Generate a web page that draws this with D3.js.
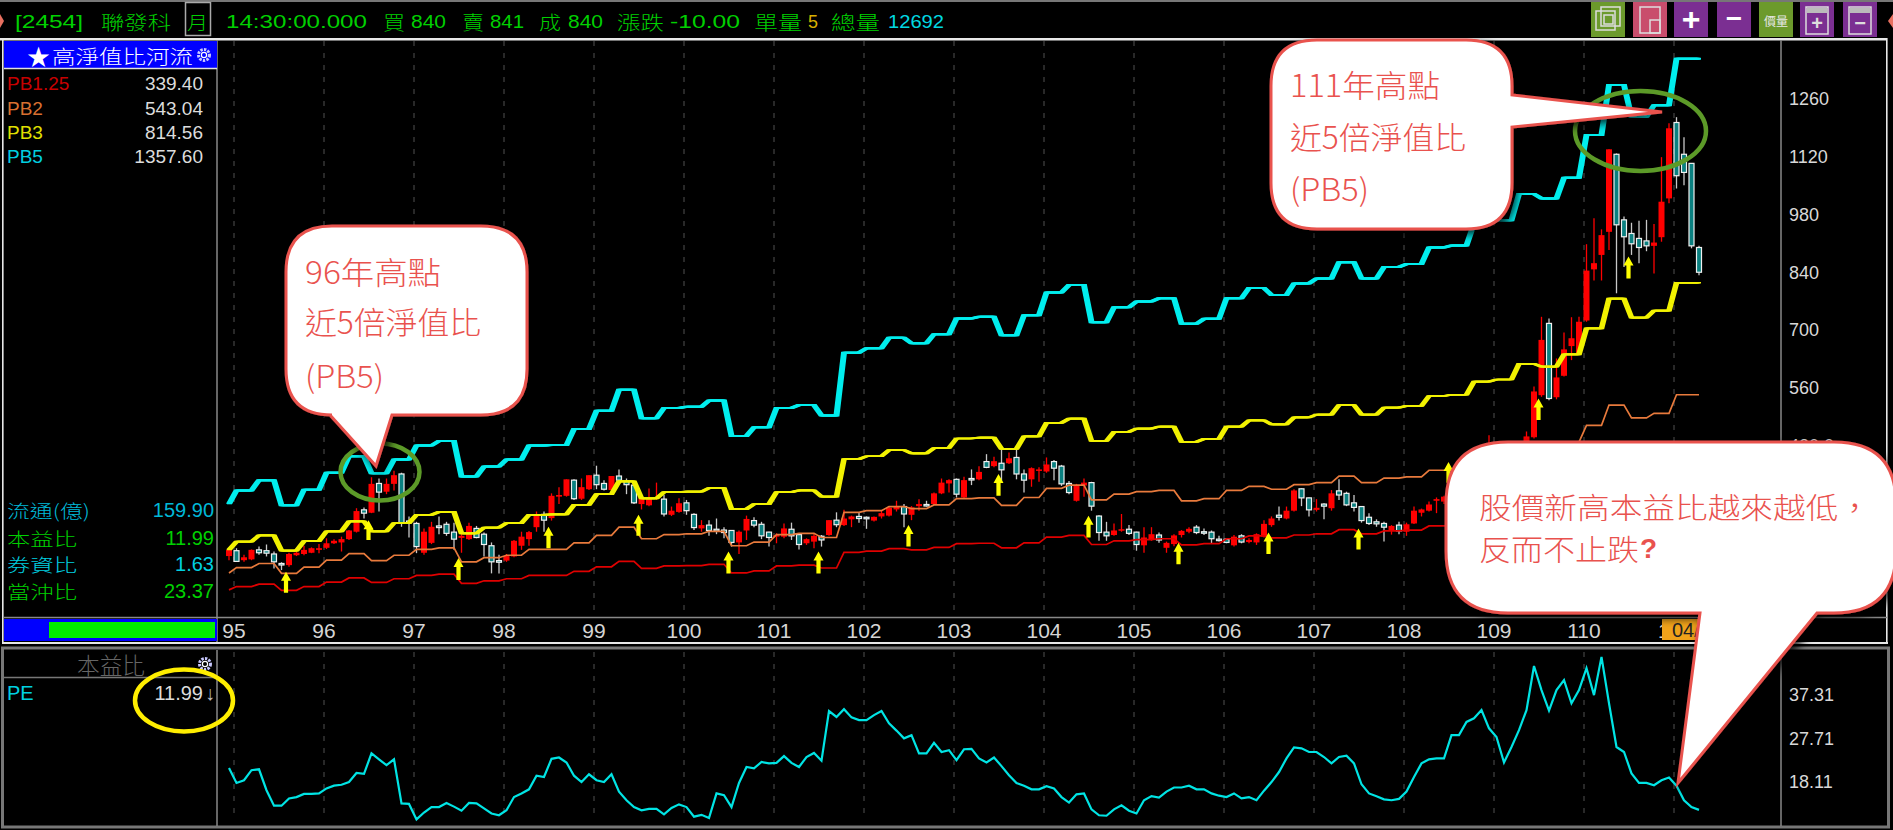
<!DOCTYPE html>
<html><head><meta charset="utf-8"><title>聯發科 高淨值比河流</title>
<script src="https://cdn.jsdelivr.net/npm/d3@7/dist/d3.min.js"></script>
<style>html,body{margin:0;padding:0;background:#000;overflow:hidden}svg{display:block}</style>
</head><body><div id="chart"></div>
<script>
// ---- DATA ----
const yearLabels=["95","96","97","98","99","100","101","102","103","104","105","106","107","108","109","110","111"];
const priceTicks=[1260,1120,980,840,700,560,420];
const priceTickLabels=["1260","1120","980","840","700","560","420.0"];
const peTicks=[37.31,27.71,18.11];
const peTickLabels=["37.31","27.71","18.11"];
// quarterly book-value river lines (first value = first month, then one per quarter)
const pb5=[278,311,336,275,313,354,394,353,386,420,431,345,369,386,420,421,460,504,555,486,511,514,529,443,464,511,518,493,645,656,681,668,690,728,732,687,736,791,809,719,755,769,777,715,727,777,802,785,813,825,864,825,853,860,900,905,958,966,1030,1019,1069,1173,1294,1217,1245,1357.6];
const pb3=[167,187,202,165,188,212,236,212,232,252,259,207,221,232,252,253,276,302,333,292,307,308,317,266,278,307,311,296,387,394,409,401,414,437,439,412,442,475,485,431,453,461,466,429,436,466,481,471,488,495,518,495,512,516,540,543,575,580,618,611,641,704,776,730,747,814.56];
const pb2=[111,124,134,110,125,142,158,141,154,168,172,138,148,154,168,168,184,202,222,194,204,206,212,177,186,204,207,197,258,262,272,267,276,291,293,275,294,316,324,288,302,308,311,286,291,311,321,314,325,330,346,330,341,344,360,362,383,386,412,408,428,469,518,487,498,543.04];
const pb125=[70,78,84,69,78,89,99,88,97,105,108,86,92,97,105,105,115,126,139,122,128,129,132,111,116,128,130,123,161,164,170,167,173,182,183,172,184,198,202,180,189,192,194,179,182,194,201,196,203,206,216,206,213,215,225,226,240,242,258,255,267,293,324,304,311,339.4];
// monthly candles
const opens=[152,165,142,144,167,165,157,134,130,154,
157,160,167,172,183,185,193,211,264,257,
328,308,327,351,237,231,160,184,225,229,
210,196,193,219,205,177,141,141,151,177,
193,222,253,244,296,298,336,291,314,348,
328,312,346,333,324,278,275,291,290,252,
259,281,253,219,227,217,215,214,185,214,
238,229,210,199,199,217,204,183,187,200,
203,239,227,241,248,246,238,248,250,265,
272,252,273,277,278,304,328,338,294,340,
338,381,370,377,377,391,351,338,359,357,
381,370,328,286,323,330,249,210,203,214,
217,210,178,193,203,172,181,203,211,222,
211,210,193,193,178,201,186,185,199,227,
251,243,262,315,293,264,278,268,310,304,
281,272,246,235,231,213,227,211,231,257,
262,286,284,290,305,292,318,330,308,400,
360,395,410,410,440,542,716,537,589,661,
643,723,847,882,938,1126,967,934,922,916,
904,925,1019,1203,1126,1104,900];
const closes=[167,139,149,167,160,159,138,132,157,160,
167,171,171,183,189,193,214,261,256,327,
307,327,348,233,233,175,211,223,221,207,
193,201,225,197,180,138,137,152,189,199,
210,250,239,298,300,338,291,319,348,325,
314,346,336,325,281,292,292,294,254,262,
280,262,221,227,214,213,209,185,211,242,
227,201,197,203,219,201,180,193,201,191,
239,228,243,248,243,243,247,256,269,273,
254,270,278,274,304,330,336,302,336,338,
356,367,382,361,389,351,336,365,362,374,
365,327,306,324,330,273,209,201,214,217,
207,180,197,205,191,184,202,213,218,209,
208,194,191,185,199,186,191,205,230,243,
246,262,311,293,264,269,273,304,300,276,
270,238,231,230,222,225,213,229,262,265,
277,290,296,305,292,318,330,308,400,360,
395,410,400,442,551,676,534,585,653,680,
720,844,862,930,1138,955,926,909,900,904,
912,1011,1189,1074,1082,904,840];
const highs=[171,171,155,168,175,180,163,137,160,171,
177,173,181,195,193,199,215,268,270,343,
340,340,359,354,248,235,219,235,248,235,
233,207,233,225,209,185,155,157,191,211,
213,260,260,304,319,338,338,340,348,371,
336,346,362,340,324,296,316,330,300,272,
292,288,256,239,239,243,222,215,214,250,
246,235,211,207,231,233,207,195,207,203,
239,258,264,250,258,248,248,262,272,286,
278,273,290,286,306,340,338,340,344,362,
370,399,393,411,403,411,362,367,367,391,
385,373,334,327,340,332,251,235,231,254,
227,211,222,222,209,187,205,215,222,227,
219,214,201,195,203,205,195,207,239,248,
272,272,314,316,294,290,280,312,338,308,
300,273,256,241,235,227,235,233,272,267,
284,294,298,312,318,325,340,345,445,420,
405,420,425,454,563,732,728,631,694,731,
732,908,971,944,1138,1128,975,960,965,967,
957,1119,1201,1216,1167,1104,904];
const lows=[142,138,138,142,155,151,122,118,126,152,
154,159,159,169,181,163,191,209,243,256,
260,302,311,223,197,159,155,181,205,201,
167,160,191,195,151,110,110,138,149,167,
177,211,211,238,278,296,288,288,312,314,
311,308,332,302,278,265,273,288,248,249,
257,252,215,211,201,205,195,175,157,191,
222,193,175,183,195,191,168,179,171,175,
201,222,225,222,233,218,236,243,248,260,
222,239,262,272,276,302,306,294,293,324,
336,365,367,332,375,338,306,320,332,354,
336,322,302,284,296,262,189,189,201,211,
203,165,160,189,184,160,176,197,207,205,
203,183,187,183,175,183,183,179,197,223,
238,241,260,273,248,260,241,262,288,273,
260,233,227,223,187,204,205,201,230,248,
260,256,278,285,280,285,305,300,298,340,
350,385,390,405,437,538,530,532,587,627,
642,720,820,820,894,789,853,882,862,891,
837,914,1007,1043,1051,898,833];
// monthly PE
const pe=[21.2,17.9,18.5,20.7,20.9,16.3,12.9,12.9,14.5,14.8,
15.5,15.5,15.6,16.7,17.3,17.5,18.1,20.1,19.9,24.4,
23.1,21.8,23.1,13.4,13.3,9.9,11.4,12.6,12.6,13.5,
12.7,11.8,13.5,13.4,12.3,11.2,10.8,11.9,14.8,15.6,
16.5,19.5,19.2,23.2,23.5,22.4,19.5,18.1,19.8,18.5,
18.1,19.8,16.0,14.1,12.6,11.9,12.2,12.2,11.0,12.4,
13.2,12.6,10.5,10.9,10.2,15.6,15.2,12.6,17.9,21.4,
21.1,22.5,22.2,22.3,23.8,22.3,21.4,23.6,24.5,22.8,
33.7,32.4,34.1,32.3,31.7,31.7,32.8,33.7,31.0,29.4,
27.7,28.4,24.4,24.4,26.7,24.7,25.1,22.9,25.3,25.4,
23.3,22.4,23.5,21.6,19.6,17.9,17.3,16.5,16.5,17.2,
16.7,14.8,13.6,15.4,15.6,12.1,10.8,10.7,12.1,13.0,
11.8,11.2,14.1,15.0,14.7,16.0,16.9,16.9,17.3,16.5,
16.5,15.6,15.1,14.8,15.6,14.5,14.8,14.1,16.2,18.1,
20.3,23.3,25.7,25.5,24.7,24.7,23.6,22.2,23.6,23.9,
22.2,17.6,15.6,15.0,14.3,14.1,14.4,16.0,19.2,22.2,
23.1,23.3,23.3,28.4,28.4,31.3,32.1,33.9,29.9,28.0,
22.4,25.8,29.5,33.9,43.6,38.3,33.8,38.3,40.5,35.4,
38.3,43.1,37.2,45.6,35.4,25.8,24.7,20.0,17.9,17.9,
17.4,18.5,19.1,17.3,14.1,12.6,11.99];
// yellow ex-dividend arrows: month index and price span
const arrowMonths=[8,19,31,43,55,67,79,91,103,115,127,139,151,163,175,187];
const arrowTops=[114,239,147,223,252,163,163,227,351,250,184,209,219,380,534,878];
const arrowBottoms=[63,191,94,171,201,110,110,175,298,197,132,157,168,330,482,825];
const legendNames=["PB1.25","PB2","PB3","PB5"];
const legendValues=["339.40","543.04","814.56","1357.60"];
const statNames=["流通(億)","本益比","券資比","當沖比"];
const statValues=["159.90","11.99","1.63","23.37"];

// ---- DRAW ----
const W=1893,H=830,SANS='"Liberation Sans",Arial,sans-serif',CJK='"Noto Sans CJK TC","Noto Sans",sans-serif';
const svg=d3.select("#chart").append("svg").attr("width",W).attr("height",H).attr("viewBox",`0 0 ${W} ${H}`);
const defs=svg.append("defs");
const shadow=defs.append("filter").attr("id","sh").attr("x","-10%").attr("y","-10%").attr("width","125%").attr("height","125%");
shadow.append("feDropShadow").attr("dx",4).attr("dy",4).attr("stdDeviation",4).attr("flood-color","#000").attr("flood-opacity",.8);
svg.append("rect").attr("width",W).attr("height",H).attr("fill","#000");
const n=opens.length;
const x=d3.scaleLinear().domain([0,n-1]).range([229,1699]);
const y=d3.scaleLinear().domain([420,1260]).range([445.5,99]);
const yPE=d3.scaleLinear().domain([18.11,37.31]).range([782,694.6]);
function txt(g,px,py,s,o={}){return g.append("text").attr("x",px).attr("y",py).attr("dominant-baseline","central")
  .attr("text-anchor",o.a||"start").attr("fill",o.c||"#ddd").attr("font-family",o.f||SANS).attr("font-size",o.s||20)
  .attr("font-weight",o.w||null).attr("textLength",o.l||null).attr("lengthAdjust",o.l?"spacingAndGlyphs":null).text(s);}
function ln(g,x1,y1,x2,y2,c,w){return g.append("line").attr("x1",x1).attr("y1",y1).attr("x2",x2).attr("y2",y2).attr("stroke",c).attr("stroke-width",w);}

// header
const top_=svg.append("g");
top_.append("rect").attr("width",W).attr("height",2).attr("fill","#777");
top_.append("path").attr("d","M0 14L4 21L0 28Z").attr("fill","#e87060");
top_.append("path").attr("d","M1893 14L1888 21L1893 28Z").attr("fill","#e87060");
const G="#00d000";
[[15,"[2454]",G,68],[226,"14:30:00.000",G,141],[411,"840",G,35],[490,"841",G,34],[568,"840",G,35],[670,"-10.00",G,70],[808,"5","#d8b000",10],[888,"12692","#00d8e0",56]]
 .forEach(d=>txt(top_,d[0],21,d[1],{c:d[2],s:19,l:d[3]}));
[[101,"聯發科",70],[383,"買",22],[462,"賣",22],[539,"成",22],[617,"漲跌",47],[754,"單量",48],[831,"總量",49],[187,"月",21]]
 .forEach(d=>txt(top_,d[0],21,d[1],{c:G,f:CJK,s:19,l:d[2],w:300}));
top_.append("rect").attr("x",185.5).attr("y",2.5).attr("width",25).attr("height",33).attr("fill","none").attr("stroke","#aaa").attr("stroke-width",1.5);
// toolbar buttons
const buttons=[[1591,"#6c9a2c"],[1633,"#c94d6c"],[1674,"#7b2f92"],[1717,"#7b2f92"],[1759,"#6c9a2c"],[1800,"#7b2f92"],[1843,"#7b2f92"]];
buttons.forEach((b,i)=>{const g=top_.append("g").attr("transform",`translate(${b[0]},2)`);
 g.append("rect").attr("width",34).attr("height",35).attr("fill",b[1]);
 const box=(a,c,w,h)=>g.append("rect").attr("x",a).attr("y",c).attr("width",w).attr("height",h).attr("fill","none").attr("stroke","#ddd").attr("stroke-width",1.5);
 if(i==0){box(5,9,19,19);box(10,5,19,19);box(13,13,9,9);}
 if(i==1){box(7,5,20,26);box(17,18,10,13);}
 if(i==2)txt(g,17,17,"+",{a:"middle",c:"#fff",s:32,w:"bold"});
 if(i==3)txt(g,17,16,"−",{a:"middle",c:"#fff",s:28,w:"bold"});
 if(i==4){txt(g,5,18,"價",{c:"#e8e8e8",f:CJK,s:12});txt(g,17,18,"量",{c:"#e8e8e8",f:CJK,s:12});}
 if(i>=5){box(6,5,22,27);g.append("rect").attr("x",7).attr("y",6).attr("width",20).attr("height",5).attr("fill","#bbb");
  txt(g,17,21,i==5?"+":"−",{a:"middle",c:"#ddd",s:20,w:"bold"});}
});

// main frame
const frame=svg.append("g");
frame.append("rect").attr("x",0).attr("y",38).attr("width",1887).attr("height",2.5).attr("fill","#e8e8e8");
frame.append("rect").attr("x",2).attr("y",38).attr("width",1.6).attr("height",605).attr("fill","#e8e8e8");
frame.append("rect").attr("x",1886).attr("y",38).attr("width",1.6).attr("height",605).attr("fill","#e8e8e8");
frame.append("rect").attr("x",2).attr("y",642).attr("width",1886).attr("height",2).attr("fill","#e8e8e8");
ln(frame,217,40,217,642,"#888",1.5);ln(frame,1781,40,1781,642,"#888",1.5);ln(frame,4,617.5,1887,617.5,"#888",1.5);
// lower frame
frame.append("rect").attr("x",2.5).attr("y",648).attr("width",1886).attr("height",179).attr("fill","none").attr("stroke","#777").attr("stroke-width",3);
ln(frame,217,650,217,826,"#888",1.5);ln(frame,1781,650,1781,826,"#888",1.5);ln(frame,4,677.5,217,677.5,"#777",1.5);

// grid
const yearIdx=yearLabels.map((_,i)=>1+12*i);
const grid=svg.append("g").attr("stroke","#505050").attr("stroke-dasharray","5 7").attr("stroke-width",1);
grid.selectAll(".a").data(yearIdx).join("line").attr("x1",d=>x(d)-2.5).attr("x2",d=>x(d)-2.5).attr("y1",41).attr("y2",615);
grid.selectAll(".b").data(yearIdx).join("line").attr("x1",d=>x(d)-2.5).attr("x2",d=>x(d)-2.5).attr("y1",652).attr("y2",819);

// x labels
const xl=svg.append("g");
yearLabels.forEach((s,i)=>txt(xl,x(yearIdx[i])-2.5,630,s,{a:"middle",s:21,c:"#d5d5d5"}));
xl.append("rect").attr("x",1662).attr("y",619).attr("width",60).attr("height",21).attr("fill","#f0a21a");
txt(xl,1672,630,"04/28",{s:20,c:"#222"});

// y axes through d3.axis
const axisMain=d3.axisRight(y).tickValues(priceTicks).tickSize(0).tickPadding(8).tickFormat((d,i)=>priceTickLabels[i]);
const axM=svg.append("g").attr("transform","translate(1781,0)").call(axisMain);
const axisPE=d3.axisRight(yPE).tickValues(peTicks).tickSize(0).tickPadding(8).tickFormat((d,i)=>peTickLabels[i]);
const axP=svg.append("g").attr("transform","translate(1781,0)").call(axisPE);
[axM,axP].forEach(a=>{a.select(".domain").remove();a.selectAll("text").attr("fill","#d8d8d8").attr("font-family",SANS).attr("font-size",18);});

// candles
const candleData=d3.range(n).map(i=>({i,o:opens[i],c:closes[i],h:highs[i],l:lows[i]}));
const cg=svg.append("g");
const up=d=>d.c>=d.o;
cg.selectAll(".w").data(candleData).join("line").attr("x1",d=>x(d.i)).attr("x2",d=>x(d.i)).attr("y1",d=>y(d.h)).attr("y2",d=>y(d.l))
  .attr("stroke",d=>up(d)?"#f00":"#c8c8c8").attr("stroke-width",1.3);
cg.selectAll(".b").data(candleData).join("rect").attr("x",d=>x(d.i)-(up(d)?3:2.5)).attr("width",d=>up(d)?6:5)
  .attr("y",d=>y(Math.max(d.o,d.c))).attr("height",d=>Math.max(1.5,Math.abs(y(d.o)-y(d.c))))
  .attr("fill",d=>up(d)?"#f00":"#0a8080").attr("stroke",d=>up(d)?"none":"#f0f0f0").attr("stroke-width",1.2);

// river lines
const monthly=q=>d3.range(n).map(i=>({i,v:q[i===0?0:Math.min(q.length-1,Math.ceil(i/3))]}));
const line=d3.line().x(d=>x(d.i)).y(d=>y(d.v));
const rg=svg.append("g").attr("fill","none").attr("stroke-linejoin","miter");
rg.append("path").attr("d",line(monthly(pb125))).attr("stroke","#e00000").attr("stroke-width",1.7);
rg.append("path").attr("d",line(monthly(pb2))).attr("stroke","#e87a3c").attr("stroke-width",1.7);
[-2,-1,0,1,2].forEach(dx=>{
 rg.append("path").attr("d",line(monthly(pb3))).attr("transform",`translate(${dx},0)`).attr("stroke","#f2f200").attr("stroke-width",1.7);
 rg.append("path").attr("d",line(monthly(pb5))).attr("transform",`translate(${dx},0)`).attr("stroke","#00eeee").attr("stroke-width",2);
});

// arrows
const ag=svg.append("g").attr("fill","#ffff00");
arrowMonths.forEach((m,i)=>{const a=x(m)-3,t=y(arrowTops[i]),b=y(arrowBottoms[i]);
 ag.append("path").attr("d",`M${a} ${t}L${a+5} ${t+9}L${a+2.1} ${t+9}L${a+2.1} ${b}L${a-2.1} ${b}L${a-2.1} ${t+9}L${a-5} ${t+9}Z`);});

// PE
const peLine=d3.line().x((d,i)=>x(i)).y(d=>yPE(d));
svg.append("path").attr("d",peLine(pe)).attr("fill","none").attr("stroke","#00e4e4").attr("stroke-width",2.2);

// left side panels
const lp=svg.append("g");
lp.append("rect").attr("x",4).attr("y",41).attr("width",213).attr("height",27).attr("fill","#0000ff");
ln(lp,4,68.5,217,68.5,"#e0e0e0",1.5);
txt(lp,27,55,"★",{c:"#fff",f:CJK,s:23});
txt(lp,52,55,"高淨值比河流",{c:"#fff",f:CJK,s:19,l:141,w:300});
const lc=["#c80000","#d87030","#e0e000","#00d0e0"];
legendNames.forEach((s,i)=>{const py=[83,108,132,156][i];txt(lp,7,py,s,{c:lc[i],s:19});txt(lp,203,py,legendValues[i],{a:"end",s:19,c:"#dcdcdc"});});
const sc=["#00b8d8","#00d000","#00d0e0","#00d000"];
const statLen=[83,70,70,70];
statNames.forEach((s,i)=>{const py=[510,537.5,564,590.5][i];txt(lp,7,py,s,{c:sc[i],f:CJK,s:18.5,w:300,l:statLen[i]});txt(lp,214,py,statValues[i],{a:"end",c:sc[i],s:20});});
lp.append("rect").attr("x",4).attr("y",619).attr("width",213).attr("height",22).attr("fill","#0000ff");
lp.append("rect").attr("x",49).attr("y",622).attr("width",166).attr("height",16).attr("fill","#00ee00");
function gear(g,cx,cy){g.append("circle").attr("cx",cx).attr("cy",cy).attr("r",5.5).attr("fill","none").attr("stroke","#c8c8ff").attr("stroke-width",3).attr("stroke-dasharray","2.4 1.2");
 g.append("circle").attr("cx",cx).attr("cy",cy).attr("r",2.6).attr("fill","none").attr("stroke","#fff").attr("stroke-width",1.2);}
gear(lp,204,55);gear(lp,205,664);
txt(lp,111,664,"本益比",{a:"middle",c:"#666",f:CJK,s:23,w:300,l:68});
txt(lp,7,692.5,"PE",{c:"#00d0e0",s:20});
txt(lp,203,692.5,"11.99",{a:"end",s:20,c:"#dcdcdc"});
txt(lp,210,693,"↓",{a:"middle",s:20,c:"#bbb"});
lp.append("ellipse").attr("cx",184).attr("cy",700.5).attr("rx",49).attr("ry",31).attr("fill","none").attr("stroke","#ffee00").attr("stroke-width",4.5);

// annotations
const an=svg.append("g");
const GRN="#5c9a28",RED="#e9524e";
an.append("ellipse").attr("cx",380).attr("cy",472).attr("rx",39.5).attr("ry",28.5).attr("fill","none").attr("stroke",GRN).attr("stroke-width",4.5);
an.append("ellipse").attr("cx",1640.5).attr("cy",131).attr("rx",65.5).attr("ry",40).attr("fill","none").attr("stroke",GRN).attr("stroke-width",4.5);
function callout(l,t,r,b,rad,tail){
 const side=tail.side;let d=`M${l+rad} ${t}L${r-rad} ${t}Q${r} ${t} ${r} ${t+rad}`;
 if(side=="right")d+=`L${r} ${tail.a}L${tail.x} ${tail.y}L${r} ${tail.b}`;
 d+=`L${r} ${b-rad}Q${r} ${b} ${r-rad} ${b}`;
 if(side=="bottom")d+=`L${tail.b} ${b}L${tail.x} ${tail.y}L${tail.a} ${b}`;
 d+=`L${l+rad} ${b}Q${l} ${b} ${l} ${b-rad}L${l} ${t+rad}Q${l} ${t} ${l+rad} ${t}Z`;
 an.append("path").attr("d",d).attr("fill","#fff").attr("stroke",RED).attr("stroke-width",3).attr("filter","url(#sh)");
}
callout(286,226,527,415,46,{side:"bottom",a:330,b:392,x:376,y:466});
callout(1271,40,1512,229,46,{side:"right",a:95,b:127,x:1662,y:112});
callout(1446,442,1896,613,62,{side:"bottom",a:1700,b:1817,x:1678,y:783});
[["96年高點",305,270,136],["近5倍淨值比",305,320,176],["(PB5)",305,374,79],["111年高點",1290,83,150],["近5倍淨值比",1290,135,176],["(PB5)",1290,187,79]]
 .forEach(d=>txt(an,d[1],d[2],d[0],{c:RED,f:CJK,s:31,w:300,l:d[3]}));
txt(an,1479,506,"股價新高本益比越來越低，",{c:RED,f:CJK,s:29,w:300,l:392});
txt(an,1479,548,"反而不止跌",{c:RED,f:CJK,s:29,w:300,l:160});
txt(an,1640,548,"?",{c:RED,s:28,w:"bold"});
</script></body></html>
